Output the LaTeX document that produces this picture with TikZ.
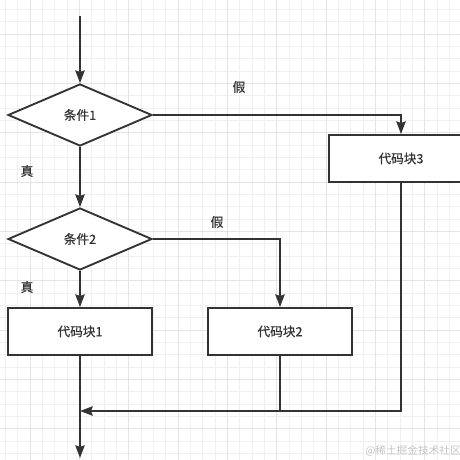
\documentclass[tikz,border=0pt]{standalone}
\usepackage{fontspec}
\setmainfont{Noto Sans CJK SC}
\newfontfamily\cjkmed{Noto Sans CJK SC}[FakeBold=0.6]
\usetikzlibrary{shapes.geometric,arrows.meta}

\definecolor{inkc}{RGB}{51,51,51}
\definecolor{gridminor}{RGB}{240,240,240}
\definecolor{gridmajor}{RGB}{228,228,228}

\tikzset{every picture/.style={line width=1.4pt}}
\tikzset{
  cond/.style={draw=inkc,line width=1.4pt,fill=white,diamond,inner sep=0pt,minimum width=108pt,minimum height=46.5pt,text=inkc,font=\cjkmed\fontsize{9.5}{11}\selectfont},
  codebox/.style={draw=inkc,line width=1.4pt,fill=white,rectangle,inner sep=0pt,minimum width=108pt,minimum height=35.25pt,text=inkc,font=\cjkmed\fontsize{9.5}{11}\selectfont},
  flow/.style={draw=inkc,line width=1.4pt,-{Stealth[length=9.5pt,width=7pt,inset=1.2pt]}},
  plain/.style={draw=inkc,line width=1.4pt},
  lbl/.style={text=inkc,inner sep=0pt,font=\cjkmed\fontsize{9.5}{11}\selectfont}
}

\begin{document}
\begin{tikzpicture}[x=0.75pt,y=0.75pt,yscale=-1,xscale=1]
\clip (0,0) rectangle (460,460);
\fill[white] (0,0) rectangle (460,460);

%Grid
\foreach \k in {-3,...,35} {
  \draw[gridminor,line width=0.6pt] ({30+12.333*\k},0) -- ({30+12.333*\k},460);
  \draw[gridminor,line width=0.6pt] (0,{34+12.333*\k}) -- (460,{34+12.333*\k});
}
\foreach \k in {-1,...,9} {
  \draw[gridmajor,line width=0.6pt] ({30+49.333*\k},0) -- ({30+49.333*\k},460);
  \draw[gridmajor,line width=0.6pt] (0,{34+49.333*\k}) -- (460,{34+49.333*\k});
}

%Shape: Diamond
\node[cond] (cond1) at (80,115) {条件1};
\node[cond] (cond2) at (80,239) {条件2};

%Shape: Rectangle
\node[codebox] (code1) at (80,331.5) {代码块1};
\node[codebox] (code2) at (280,331.5) {代码块2};
\node[codebox] (code3) at (401,158.5) {代码块3};

\coordinate (start) at (80,16);
\coordinate (merge) at (80,411);
\coordinate (finish) at (80,458);

%Straight Lines
\draw[flow] (start) -- (cond1.north);
\draw[flow] (cond1.south) -- (cond2.north);
\draw[flow] (cond2.south) -- (code1.north);
\draw[flow] (cond1.east) -| (code3.north);
\draw[flow] (cond2.east) -| (code2.north);
\draw[flow] (code3.south) |- (merge);
\draw[plain] (code2.south) -- (code2.south |- merge);
\draw[flow] (code1.south) -- (finish);

% Text Node
\node[lbl] (true1) at (27,171) {真};
\node[lbl] (true2) at (27,287) {真};
\node[lbl] (false1) at (239,87) {假};
\node[lbl] (false2) at (217,222) {假};
\node[text=gray!45,inner sep=0pt,font=\fontsize{8}{10}\selectfont] (mark) at (413,451) {@稀土掘金技术社区};

\end{tikzpicture}
\end{document}
